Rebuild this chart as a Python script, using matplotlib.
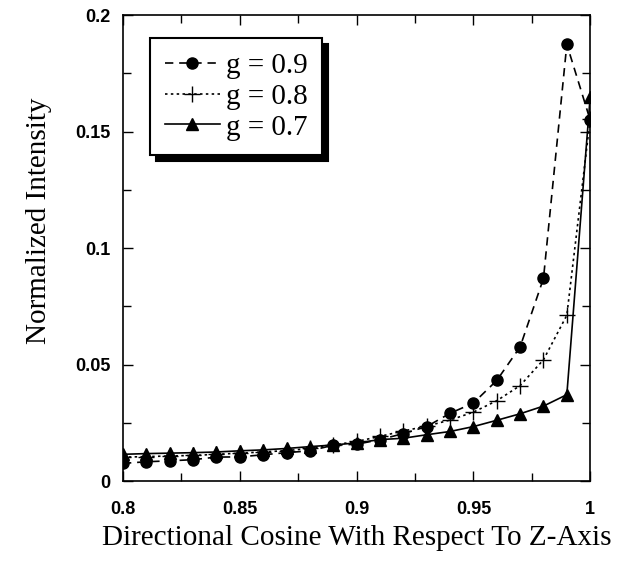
import numpy as np
import matplotlib.pyplot as plt
from matplotlib.ticker import MultipleLocator, FormatStrFormatter

# directional cosine samples
cos_z = [0.80, 0.81, 0.82, 0.83, 0.84, 0.85, 0.86, 0.87, 0.88, 0.89, 0.90,
         0.91, 0.92, 0.93, 0.94, 0.95, 0.96, 0.97, 0.98, 0.99, 1.00]

# normalized intensity for each anisotropy factor
g09 = [0.0076, 0.0083, 0.0087, 0.0092, 0.0103, 0.0104, 0.0113, 0.0122, 0.0130, 0.0154, 0.0158,
       0.0178, 0.0204, 0.0234, 0.0291, 0.0335, 0.0432, 0.0576, 0.0870, 0.1875, 0.1550]
g08 = [0.0103, 0.0105, 0.0108, 0.0110, 0.0115, 0.0120, 0.0125, 0.0131, 0.0140, 0.0155, 0.0170,
       0.0192, 0.0215, 0.0236, 0.0262, 0.0296, 0.0345, 0.0410, 0.0521, 0.0712, 0.1555]
g07 = [0.0115, 0.0118, 0.0120, 0.0122, 0.0125, 0.0130, 0.0134, 0.0140, 0.0148, 0.0155, 0.0164,
       0.0178, 0.0184, 0.0199, 0.0213, 0.0234, 0.0261, 0.0289, 0.0322, 0.0371, 0.1650]

serif = ['Liberation Serif', 'DejaVu Serif']
sans = ['Liberation Sans', 'DejaVu Sans']

fig = plt.figure(figsize=(6.18, 5.64), dpi=100)
ax = fig.add_axes([0.199, 0.147, 0.756, 0.826])

ax.plot(cos_z, g09, color='black', lw=1.2, ls=(0, (5, 3.5)), marker='o', ms=8, label='g = 0.9')
ax.plot(cos_z, g08, color='black', lw=1.2, ls=(0, (1.5, 2)), marker='+', ms=11, mew=1.0, label='g = 0.8')
ax.plot(cos_z, g07, color='black', lw=1.2, ls='-', marker='^', ms=8, label='g = 0.7')

ax.set_xlim(0.8, 1.0)
ax.set_ylim(0, 0.2)
ax.xaxis.set_major_locator(MultipleLocator(0.05))
ax.xaxis.set_minor_locator(MultipleLocator(0.025))
ax.yaxis.set_major_locator(MultipleLocator(0.05))
ax.yaxis.set_minor_locator(MultipleLocator(0.025))
ax.xaxis.set_major_formatter(FormatStrFormatter('%g'))
ax.yaxis.set_major_formatter(FormatStrFormatter('%g'))

ax.tick_params(which='both', direction='in', top=True, right=True, width=1.0)
ax.tick_params(which='major', length=7)
ax.tick_params(which='minor', length=6)
ax.tick_params(axis='x', pad=14)
ax.tick_params(axis='y', pad=9)
for lab in ax.get_xticklabels() + ax.get_yticklabels():
    lab.set_family(sans)
    lab.set_fontweight('bold')
    lab.set_fontsize(13)

for sp in ax.spines.values():
    sp.set_linewidth(1.2)

ax.set_xlabel('Directional Cosine With Respect To Z-Axis', family=serif, fontsize=21)
ax.set_ylabel('Normalized Intensity', family=serif, fontsize=21)
ax.xaxis.set_label_coords(0.5, -0.095)
ax.yaxis.set_label_coords(-0.152, 0.558)

leg = ax.legend(loc='upper left', bbox_to_anchor=(0.058, 0.951), borderaxespad=0,
                prop={'family': serif, 'size': 21}, fancybox=False,
                shadow={'color': 'black', 'alpha': 1, 'ox': 4, 'oy': -4},
                handlelength=1.9, handletextpad=0.2, labelspacing=0.15,
                borderpad=0.5, framealpha=1)
leg.get_frame().set_edgecolor('black')
leg.get_frame().set_linewidth(1.5)

fig.savefig('out.png', dpi=100)
